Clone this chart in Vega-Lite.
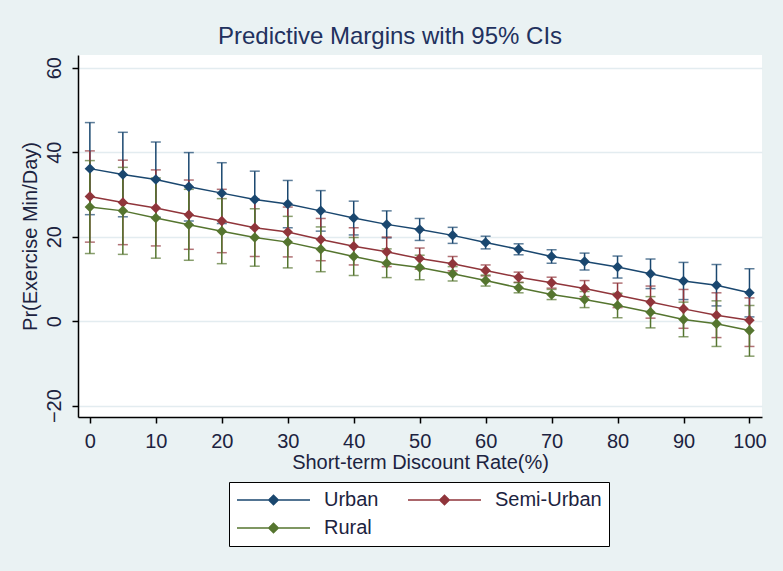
{
  "$schema": "https://vega.github.io/schema/vega-lite/v6.json",
  "width": 684,
  "height": 362,
  "autosize": "none",
  "padding": {"left": 78, "top": 55, "right": 21, "bottom": 154},
  "background": "#eaf2f3",
  "view": {"fill": "white", "stroke": null},
  "config": {
    "font": "Liberation Sans",
    "axis": {"domainColor": "black", "tickColor": "black", "domainWidth": 1.5, "tickWidth": 1.5, "tickSize": 6, "labelFontSize": 20, "titleFontSize": 20, "labelColor": "#1c2340", "titleColor": "#1c2340", "titleFontWeight": "normal"}
  },
  "title": {"text": "Predictive Margins with 95% CIs", "fontSize": 24, "fontWeight": "normal", "color": "#22315e", "anchor": "middle", "dx": -30, "offset": 6},
  "data": {"values": [
    {"x":0,"g":"Urban","est":36.1,"lo":25.2,"hi":47.0},
    {"x":5,"g":"Urban","est":34.7,"lo":24.7,"hi":44.7},
    {"x":10,"g":"Urban","est":33.5,"lo":24.6,"hi":42.4},
    {"x":15,"g":"Urban","est":31.8,"lo":23.7,"hi":39.9},
    {"x":20,"g":"Urban","est":30.3,"lo":23.1,"hi":37.5},
    {"x":25,"g":"Urban","est":28.8,"lo":22.1,"hi":35.5},
    {"x":30,"g":"Urban","est":27.7,"lo":22.1,"hi":33.3},
    {"x":35,"g":"Urban","est":26.1,"lo":21.3,"hi":30.9},
    {"x":40,"g":"Urban","est":24.4,"lo":20.4,"hi":28.4},
    {"x":45,"g":"Urban","est":22.9,"lo":19.7,"hi":26.1},
    {"x":50,"g":"Urban","est":21.7,"lo":19.1,"hi":24.3},
    {"x":55,"g":"Urban","est":20.3,"lo":18.4,"hi":22.2},
    {"x":60,"g":"Urban","est":18.6,"lo":17.1,"hi":20.1},
    {"x":65,"g":"Urban","est":17.0,"lo":15.7,"hi":18.3},
    {"x":70,"g":"Urban","est":15.3,"lo":13.7,"hi":16.9},
    {"x":75,"g":"Urban","est":14.1,"lo":12.1,"hi":16.1},
    {"x":80,"g":"Urban","est":12.8,"lo":10.2,"hi":15.4},
    {"x":85,"g":"Urban","est":11.2,"lo":7.7,"hi":14.7},
    {"x":90,"g":"Urban","est":9.5,"lo":5.1,"hi":13.9},
    {"x":95,"g":"Urban","est":8.5,"lo":3.6,"hi":13.4},
    {"x":100,"g":"Urban","est":6.7,"lo":1.0,"hi":12.4},
    {"x":0,"g":"Semi-Urban","est":29.5,"lo":18.7,"hi":40.3},
    {"x":5,"g":"Semi-Urban","est":28.1,"lo":18.1,"hi":38.1},
    {"x":10,"g":"Semi-Urban","est":26.8,"lo":17.8,"hi":35.8},
    {"x":15,"g":"Semi-Urban","est":25.2,"lo":17.0,"hi":33.4},
    {"x":20,"g":"Semi-Urban","est":23.7,"lo":16.2,"hi":31.2},
    {"x":25,"g":"Semi-Urban","est":22.1,"lo":15.3,"hi":28.9},
    {"x":30,"g":"Semi-Urban","est":21.1,"lo":15.2,"hi":27.0},
    {"x":35,"g":"Semi-Urban","est":19.3,"lo":14.3,"hi":24.3},
    {"x":40,"g":"Semi-Urban","est":17.7,"lo":13.3,"hi":22.1},
    {"x":45,"g":"Semi-Urban","est":16.4,"lo":12.9,"hi":19.9},
    {"x":50,"g":"Semi-Urban","est":14.8,"lo":12.3,"hi":17.3},
    {"x":55,"g":"Semi-Urban","est":13.6,"lo":11.9,"hi":15.3},
    {"x":60,"g":"Semi-Urban","est":12.0,"lo":10.7,"hi":13.3},
    {"x":65,"g":"Semi-Urban","est":10.4,"lo":9.2,"hi":11.6},
    {"x":70,"g":"Semi-Urban","est":9.1,"lo":7.8,"hi":10.4},
    {"x":75,"g":"Semi-Urban","est":7.7,"lo":5.8,"hi":9.6},
    {"x":80,"g":"Semi-Urban","est":6.1,"lo":3.2,"hi":9.0},
    {"x":85,"g":"Semi-Urban","est":4.5,"lo":0.7,"hi":8.3},
    {"x":90,"g":"Semi-Urban","est":2.9,"lo":-1.7,"hi":7.5},
    {"x":95,"g":"Semi-Urban","est":1.4,"lo":-3.9,"hi":6.7},
    {"x":100,"g":"Semi-Urban","est":0.2,"lo":-6.0,"hi":5.5},
    {"x":0,"g":"Rural","est":27.0,"lo":16.0,"hi":38.0},
    {"x":5,"g":"Rural","est":26.1,"lo":15.8,"hi":36.4},
    {"x":10,"g":"Rural","est":24.4,"lo":14.9,"hi":33.9},
    {"x":15,"g":"Rural","est":22.8,"lo":14.4,"hi":31.2},
    {"x":20,"g":"Rural","est":21.3,"lo":13.6,"hi":29.0},
    {"x":25,"g":"Rural","est":19.8,"lo":13.0,"hi":26.6},
    {"x":30,"g":"Rural","est":18.7,"lo":12.6,"hi":24.8},
    {"x":35,"g":"Rural","est":17.0,"lo":11.7,"hi":22.3},
    {"x":40,"g":"Rural","est":15.3,"lo":10.8,"hi":19.8},
    {"x":45,"g":"Rural","est":13.7,"lo":10.3,"hi":17.1},
    {"x":50,"g":"Rural","est":12.7,"lo":9.8,"hi":15.6},
    {"x":55,"g":"Rural","est":11.2,"lo":9.5,"hi":12.9},
    {"x":60,"g":"Rural","est":9.6,"lo":8.3,"hi":10.9},
    {"x":65,"g":"Rural","est":7.9,"lo":6.7,"hi":9.1},
    {"x":70,"g":"Rural","est":6.3,"lo":5.1,"hi":7.5},
    {"x":75,"g":"Rural","est":5.1,"lo":3.2,"hi":7.0},
    {"x":80,"g":"Rural","est":3.7,"lo":0.8,"hi":6.6},
    {"x":85,"g":"Rural","est":2.1,"lo":-1.6,"hi":5.8},
    {"x":90,"g":"Rural","est":0.4,"lo":-3.7,"hi":4.5},
    {"x":95,"g":"Rural","est":-0.6,"lo":-6.0,"hi":4.8},
    {"x":100,"g":"Rural","est":-2.2,"lo":-8.3,"hi":3.7}
  ]},
  "encoding": {
    "x": {"field": "x", "type": "quantitative",
      "scale": {"domain": [-1.8, 101.9], "nice": false, "zero": false},
      "axis": {"values": [0,10,20,30,40,50,60,70,80,90,100], "grid": false, "title": "Short-term Discount Rate(%)", "labelPadding": 8, "titleY": 45, "titleBaseline": "middle"}},
    "color": {"field": "g", "type": "nominal",
      "scale": {"domain": ["Urban", "Semi-Urban", "Rural"], "range": ["#1a476f", "#90353b", "#55752f"]},
      "legend": {"title": null, "orient": "none", "legendX": 151, "legendY": 427, "columns": 2, "direction": "horizontal",
        "symbolType": "M-1,0L1,0M0,-0.13L0.13,0L0,0.13L-0.13,0Z", "symbolSize": 5329, "clipHeight": 22,
        "symbolStrokeWidth": 1.5, "labelFontSize": 20, "labelColor": "#1c2340", "labelOffset": 13,
        "columnPadding": 28, "rowPadding": 6, "padding": 7, "strokeColor": "black", "fillColor": "white",
        "labelLimit": 300,
        "encode": {"symbols": {"update": {"fill": {"scale": "color", "field": "value"}, "stroke": {"scale": "color", "field": "value"}, "strokeWidth": {"value": 1.5}, "opacity": {"value": 1}}}}}}
  },
  "layer": [
    {
      "mark": {"type": "errorbar", "thickness": 1.5, "ticks": {"size": 10, "thickness": 1.5}},
      "encoding": {
        "y": {"field": "lo", "type": "quantitative",
          "scale": {"domain": [-22.7, 63], "nice": false, "zero": false},
          "axis": {"values": [-20, 0, 20, 40, 60], "grid": true, "gridColor": "#e3ecf0", "gridWidth": 1.5, "labelAngle": -90, "labelPadding": 8, "title": "Pr(Exercise Min/Day)", "titleX": -48, "titleY": 181, "titleAngle": -90, "titleBaseline": "middle", "titleAlign": "center"}},
        "y2": {"field": "hi"}
      }
    },
    {
      "mark": {"type": "line", "strokeWidth": 1.5},
      "encoding": {"y": {"field": "est", "type": "quantitative"}}
    },
    {
      "mark": {"type": "point", "shape": "diamond", "filled": true, "size": 110, "opacity": 1},
      "encoding": {"y": {"field": "est", "type": "quantitative"}}
    }
  ]
}
